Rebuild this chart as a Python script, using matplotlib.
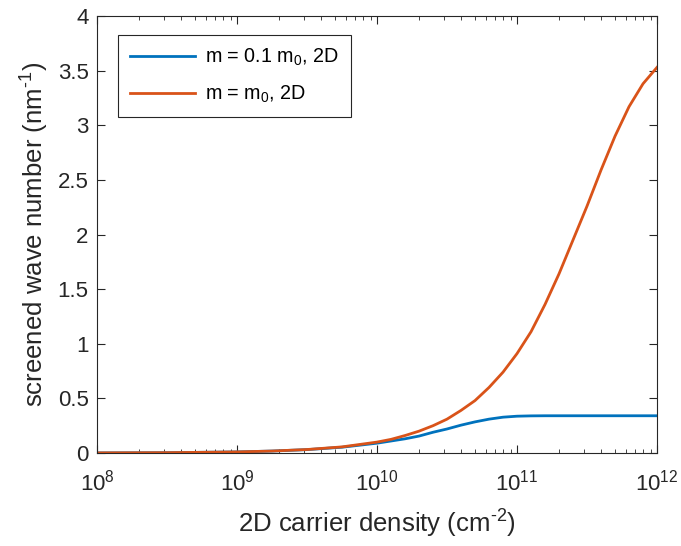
import numpy as np
import matplotlib.pyplot as plt
from matplotlib.ticker import LogLocator, NullFormatter

plt.rcParams['font.family'] = ['Liberation Sans', 'DejaVu Sans']
plt.rcParams['mathtext.fontset'] = 'custom'
plt.rcParams['mathtext.rm'] = 'Liberation Sans'
plt.rcParams['mathtext.it'] = 'Liberation Sans:italic'

# log10 of carrier density (cm^-2) and screened wave number (nm^-1)
log_n_light = [8.0, 8.5, 9.0, 9.25, 9.5, 9.75, 10.0, 10.1, 10.2, 10.3, 10.4, 10.5,
               10.6, 10.7, 10.8, 10.9, 11.0, 11.1, 11.2, 11.5, 12.0]
q_light = [0.001, 0.003, 0.010, 0.018, 0.031, 0.053, 0.090, 0.110, 0.130, 0.155, 0.190, 0.220,
           0.255, 0.285, 0.310, 0.328, 0.337, 0.340, 0.341, 0.341, 0.341]

log_n_heavy = [8.0, 8.5, 9.0, 9.25, 9.5, 9.75, 10.0, 10.1, 10.2, 10.3, 10.4, 10.5, 10.6,
               10.7, 10.8, 10.9, 11.0, 11.1, 11.2, 11.3, 11.4, 11.5, 11.6, 11.7, 11.8, 11.9, 12.0]
q_heavy = [0.001, 0.003, 0.010, 0.018, 0.032, 0.056, 0.100, 0.125, 0.160, 0.200, 0.250, 0.310, 0.390,
           0.480, 0.600, 0.740, 0.910, 1.110, 1.360, 1.640, 1.950, 2.260, 2.590, 2.900, 3.170, 3.380, 3.530]

labels = ['m = 0.1 m$_0$, 2D', 'm = m$_0$, 2D']

fig = plt.figure(figsize=(6.81, 5.46), dpi=100)
ax = fig.add_axes([0.1424, 0.1703, 0.8224, 0.8004])

ax.plot(10.0 ** np.array(log_n_light), q_light, color='#0072BD', lw=2, label=labels[0])
ax.plot(10.0 ** np.array(log_n_heavy), q_heavy, color='#D95319', lw=2, label=labels[1])

ax.set_xscale('log')
ax.set_xlim(1e8, 1e12)
ax.set_ylim(0, 4)
ax.set_yticks(np.arange(0, 4.01, 0.5))
ax.set_yticklabels(['0', '0.5', '1', '1.5', '2', '2.5', '3', '3.5', '4'])
ax.xaxis.set_minor_locator(LogLocator(base=10, subs=np.arange(2, 10), numticks=20))
ax.xaxis.set_minor_formatter(NullFormatter())

ax.tick_params(which='both', direction='in', top=True, right=True, colors='#262626',
               labelsize=16, labelcolor='#262626')
ax.tick_params(axis='x', which='major', pad=12)
ax.tick_params(axis='y', which='major', pad=6)
ax.tick_params(which='major', length=6)
ax.tick_params(which='minor', length=3)
for s in ax.spines.values():
    s.set_color('#262626')
    s.set_linewidth(0.8)

ax.set_xlabel('2D carrier density (cm$^{\\text{-}2}$)', fontsize=18.5, color='#262626', labelpad=9)
ax.set_ylabel('screened wave number (nm$^{\\text{-}1}$)', fontsize=18.5, color='#262626', labelpad=5)

leg = ax.legend(loc='upper left', bbox_to_anchor=(0.0375, 0.9565), borderaxespad=0,
                fontsize=14.2, fancybox=False, edgecolor='#262626', framealpha=1,
                handlelength=3.3, borderpad=0.6, labelspacing=0.8, handletextpad=0.5)
leg.get_frame().set_linewidth(0.8)

fig.savefig('out.png', dpi=100)
